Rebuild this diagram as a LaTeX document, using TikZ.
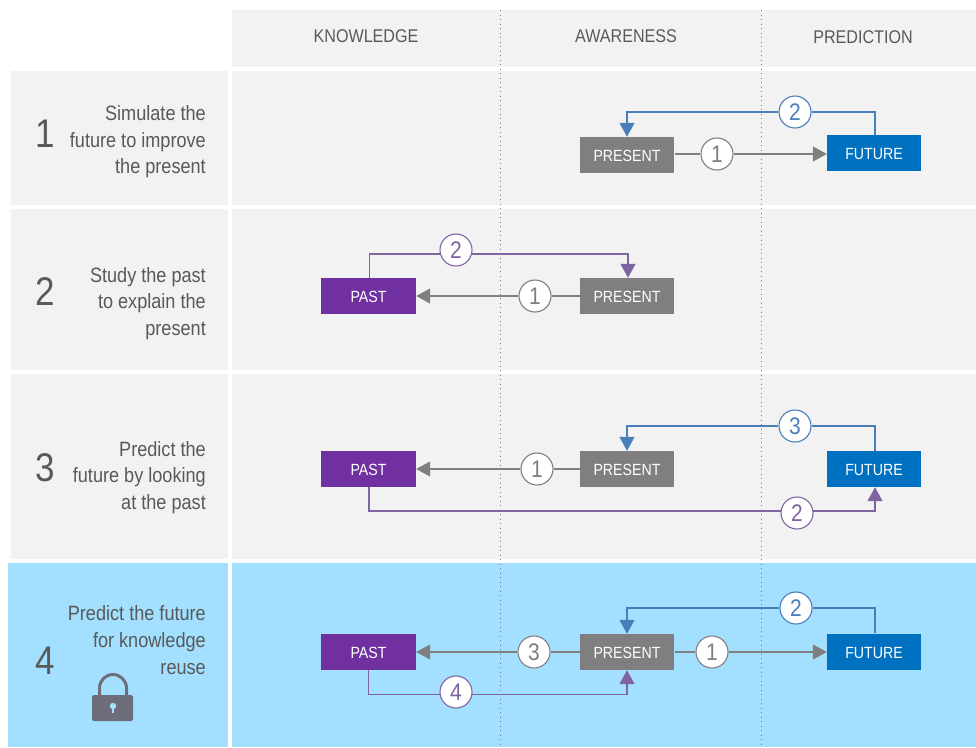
\documentclass[tikz,border=0pt]{standalone}
\usepackage{fontspec}
\setmainfont[FakeStretch=0.875]{Liberation Sans}
\usetikzlibrary{arrows.meta}
\definecolor{panelgrey}{HTML}{F2F2F2}
\definecolor{panelblue}{HTML}{A3E0FF}
\definecolor{txtgrey}{HTML}{595959}
\definecolor{boxgrey}{HTML}{7F7F7F}
\definecolor{boxblue}{HTML}{0070C0}
\definecolor{boxpurple}{HTML}{7030A0}
\definecolor{lineblue}{HTML}{4A7EBB}
\definecolor{linepurple}{HTML}{8064A2}
\definecolor{linegrey}{HTML}{7F7F7F}
\definecolor{lockgrey}{HTML}{6E6E7A}
\definecolor{dotcolor}{HTML}{7F6FA5}
\tikzset{
  x=1pt,y=-1pt,
  panel/.style={fill=panelgrey,draw=none},
  bluepanel/.style={fill=panelblue,draw=none},
  stage/.style={minimum width=94pt,minimum height=36pt,inner sep=0pt,text=white,text height=13.6pt,text depth=0pt,font=\fontsize{16.2}{16.2}\selectfont},
  present/.style={stage,fill=boxgrey},
  future/.style={stage,fill=boxblue},
  past/.style={stage,fill=boxpurple,minimum width=95pt},
  numcircle/.style={circle,fill=white,draw=#1,line width=1.1pt,text=#1,minimum size=32pt,inner sep=0pt,font=\fontsize{24}{24}\selectfont},
  conn/.style={draw=#1,line width=1.1pt},
  arrowconn/.style={conn=#1,-{Triangle[length=14pt,width=15pt,fill=#1]}},
  rowlabel/.style={anchor=east,align=right,text=txtgrey,font=\fontsize{20.7}{26.5}\selectfont,inner sep=0pt},
  rowlabelwide/.style={rowlabel,font=\fontsize{20.7}{27.4}\selectfont},
  rownum/.style={text=txtgrey,font=\fontsize{40}{40}\selectfont,inner sep=0pt},
  header/.style={text=txtgrey,font=\fontsize{18.4}{18.4}\selectfont,inner sep=0pt},
  divider/.style={draw=dotcolor,line width=1.2pt,dash pattern=on 1.3pt off 3.2pt}
}
\begin{document}
\begin{tikzpicture}
\useasboundingbox (0,0) rectangle (976,747);
\fill[white] (0,0) rectangle (976,747);
% panels
\fill[panel] (232,10) rectangle (976,67);
\fill[panel] (11,71) rectangle (228,205);
\fill[panel] (232,71) rectangle (976,205);
\fill[panel] (11,209) rectangle (228,370);
\fill[panel] (232,209) rectangle (976,370);
\fill[panel] (11,374) rectangle (228,559);
\fill[panel] (232,374) rectangle (976,559);
\fill[bluepanel] (8,563) rectangle (228,747);
\fill[bluepanel] (232,563) rectangle (976,747);
% dividers
\draw[divider] (500.5,10) -- (500.5,747);
\draw[divider] (761.5,10) -- (761.5,747);
% headers
\node[header] (hk) at (366,36) {KNOWLEDGE};
\node[header] (ha) at (626,36) {AWARENESS};
\node[header] (hp) at (863,37) {PREDICTION};
% row labels
\node[rownum] (n1) at (45,134) {1};
\node[rowlabel] (l1) at (206,142) {Simulate the\\future to improve\\the present};
\node[rownum] (n2) at (45,292) {2};
\node[rowlabel] (l2) at (206,303.5) {Study the past\\to explain the\\present};
\node[rownum] (n3) at (45,468) {3};
\node[rowlabel] (l3) at (206,477.5) {Predict the\\future by looking\\at the past};
\node[rownum] (n4) at (45,661) {4};
\node[rowlabelwide] (l4) at (206,640) {Predict the future\\for knowledge\\reuse};
% lock
\draw[lockgrey,line width=3pt] (99.5,697) -- (99.5,688) arc[start angle=180,end angle=360,radius=13.5] -- (126.5,697);
\fill[lockgrey,rounded corners=1.5pt] (92,695) rectangle (133,721);
\fill[panelblue] (113,706) circle[radius=3.2];
\fill[panelblue] (112,706) rectangle (114,713);
% row 1
\node[present] (p1) at (627,155) {PRESENT};
\node[future] (f1) at (874,153) {FUTURE};
\node[numcircle=linegrey] (c11) at (717,154) {1};
\node[numcircle=lineblue] (c12) at (795,112) {2};
\draw[conn=linegrey] (p1.east) ++(1,-1) -- (c11.west);
\draw[arrowconn=linegrey] (c11.east) -- (c11.east -| f1.west);
\draw[conn=lineblue] (f1.north) ++(1,0) |- (c12.east);
\draw[arrowconn=lineblue] (c12.west) -| (p1.north);
% row 2
\node[past] (a2) at (368.5,296) {PAST};
\node[present] (p2) at (627,296) {PRESENT};
\node[numcircle=linegrey] (c21) at (535,296) {1};
\node[numcircle=linepurple] (c22) at (456,250) {2};
\draw[conn=linegrey] (p2.west) -- (c21.east);
\draw[arrowconn=linegrey] (c21.west) -- (a2.east);
\draw[conn=linepurple] ([xshift=1pt]a2.north) |- ([xshift=0.7pt,yshift=-4pt]c22.west);
\draw[arrowconn=linepurple] ([xshift=-0.7pt,yshift=-4pt]c22.east) -| ([xshift=1pt]p2.north);
% row 3
\node[past] (a3) at (368.5,469) {PAST};
\node[present] (p3) at (627,469) {PRESENT};
\node[future] (f3) at (874,469) {FUTURE};
\node[numcircle=linegrey] (c31) at (537,469) {1};
\node[numcircle=lineblue] (c33) at (795,426) {3};
\node[numcircle=linepurple] (c32) at (797,513) {2};
\draw[conn=linegrey] (p3.west) -- (c31.east);
\draw[arrowconn=linegrey] (c31.west) -- (a3.east);
\draw[conn=lineblue] ([xshift=1pt]f3.north) |- (c33.east);
\draw[arrowconn=lineblue] (c33.west) -| (p3.north);
\draw[conn=linepurple] ([xshift=0.5pt]a3.south) |- ([xshift=0.5pt,yshift=2pt]c32.west);
\draw[arrowconn=linepurple] ([xshift=-0.5pt,yshift=2pt]c32.east) -| ([xshift=1pt]f3.south);
% row 4
\node[past] (a4) at (368.5,651.5) {PAST};
\node[present] (p4) at (627,652) {PRESENT};
\node[future] (f4) at (874,651.5) {FUTURE};
\node[numcircle=linegrey] (c43) at (534,652) {3};
\node[numcircle=linegrey] (c41) at (712,652) {1};
\node[numcircle=lineblue] (c42) at (796,608) {2};
\node[numcircle=linepurple] (c44) at (456,692) {4};
\draw[conn=linegrey] (p4.west) -- (c43.east);
\draw[arrowconn=linegrey] (c43.west) -- (c43.west -| a4.east);
\draw[conn=linegrey] (p4.east) ++(1,0) -- (c41.west);
\draw[arrowconn=linegrey] (c41.east) -- (c41.east -| f4.west);
\draw[conn=lineblue] ([xshift=1pt]f4.north) |- (c42.east);
\draw[arrowconn=lineblue] (c42.west) -| (p4.north);
\draw[conn=linepurple] (a4.south) |- ([xshift=0.5pt,yshift=-2.5pt]c44.west);
\draw[arrowconn=linepurple] ([xshift=-0.5pt,yshift=-2.5pt]c44.east) -| (p4.south);
\end{tikzpicture}
\end{document}
